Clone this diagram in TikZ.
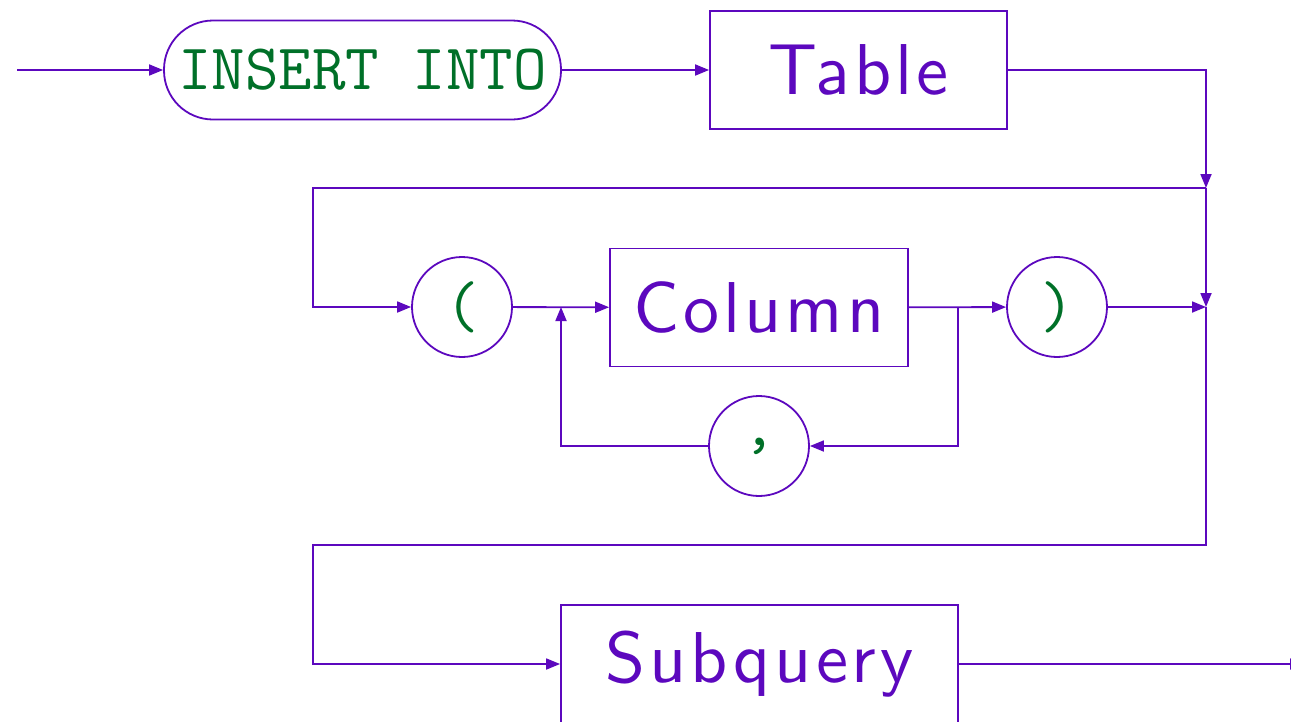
\documentclass[tikz,border=0pt]{standalone}
\usepackage{fontspec}
\newfontfamily\synsans{lmsans10-regular.otf}[LetterSpace=5.5]
\usetikzlibrary{positioning,arrows.meta}
\definecolor{synpurple}{RGB}{92,8,190}
\definecolor{syngreen}{RGB}{0,112,40}

\begin{document}
\begin{tikzpicture}[x=1pt,y=-1pt,
  line width=1.8pt, draw=synpurple, color=synpurple,
  arr/.style={-{Triangle[length=14pt,width=11pt]}},
  term/.style={draw, rounded corners=49pt, minimum width=397pt, minimum height=99pt,
    inner sep=0pt, text=syngreen, font=\fontsize{65}{78}\selectfont\ttfamily},
  symb/.style={draw, circle, minimum size=100pt, inner sep=0pt,
    text=syngreen, font=\fontsize{66}{78}\selectfont\ttfamily},
  nonterm/.style={draw, rectangle, minimum height=118pt, inner sep=0pt,
    text=synpurple, font=\synsans\fontsize{72}{86}\selectfont}]

\useasboundingbox (0,0) rectangle (1291,721);

\coordinate (KIn) at (17,70);
\node[term] (Ins) at (362.5,70) {INSERT INTO};
\node[nonterm, minimum width=297pt] (Tab) at (858.5,70) {Table};

\coordinate (J1) at (1206,188);
\coordinate (J2) at (1206,307);
\coordinate (C1) at (313,188);
\node[symb] (LPar) at (462,307) {(};
\node[nonterm, minimum width=298pt] (Col) at (759,307.5) {Column};
\node[symb] (RPar) at (1057,307) {)};
\node[symb] (Com) at (759,446) {,};
\coordinate (J3) at (561,307);
\coordinate (J4) at (958,307);

\coordinate (J5) at (1206,545);
\coordinate (C2) at (313,545);
\node[nonterm, minimum width=397pt] (Sub) at (759.5,664) {Subquery};
\coordinate (KOut) at (1304,664);

\draw[arr] (KIn) -- (Ins);
\draw[arr] (Ins) -- (Tab);
\draw[arr] (Tab) -| (J1);
\draw[arr] (J1) -- (J2);
\draw[arr] (J1) -- (C1) |- (LPar);
\draw[arr] (LPar) -- (Col);
\draw[arr] (Col) -- (RPar);
\draw[arr] (J4) |- (Com);
\draw[arr] (Com) -| (J3);
\draw[arr] (RPar) -- (J2);
\draw[arr] (J2) -- (J5) -- (C2) |- (Sub);
\draw[arr] (Sub) -- (KOut);

\end{tikzpicture}
\end{document}
